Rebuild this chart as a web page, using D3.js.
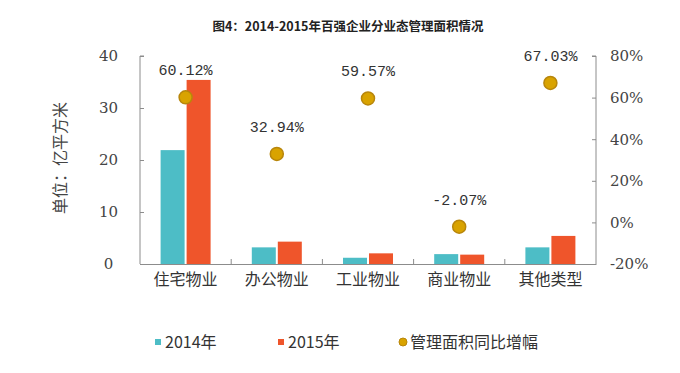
<!DOCTYPE html>
<html>
<head>
<meta charset="utf-8">
<script src="https://cdn.jsdelivr.net/npm/d3@7"></script>
<style>
  body { margin: 0; background: #fff; }
  svg { display: block; }
</style>
</head>
<body>
<div id="chart-area"></div>
<script>

var categories = ["住宅物业", "办公物业", "工业物业", "商业物业", "其他类型"];
var area2014 = [21.9, 3.2, 1.2, 1.9, 3.2];
var area2015 = [35.4, 4.3, 2.05, 1.8, 5.4];
var growth = [60.12, 32.94, 59.57, -2.07, 67.03];
var leftTicks = [0, 10, 20, 30, 40];
var rightTicks = [-20, 0, 20, 40, 60, 80];

var colors = {y2014: "#4dbdc6", y2015: "#ef552b", dot: "#d9a300", dotStroke: "#b8860b"};

var W = 680, H = 373;
var margin = {top: 56, right: 84, bottom: 109, left: 140},
    width = W - margin.left - margin.right,
    height = H - margin.top - margin.bottom;

var svg = d3.select("#chart-area")
    .append("svg")
        .attr("width", W)
        .attr("height", H);

svg.append("text")
    .attr("x", 348).attr("y", 31)
    .attr("text-anchor", "middle")
    .style("font-family", "'Noto Sans CJK SC', sans-serif")
    .style("font-weight", "bold")
    .style("font-size", "12.5px")
    .attr("fill", "#222")
    .text("图4：2014-2015年百强企业分业态管理面积情况");

var g = svg.append("g")
        .attr("transform", "translate(" + margin.left + "," + margin.top + ")");

var xScale = d3.scaleBand().domain(categories).range([0, width]);
var yScale = d3.scaleLinear().domain([0, 40]).range([height, 0]);
var y2Scale = d3.scaleLinear().domain([-20, 80]).range([height, 0]);

var barW = 24, gap = 2;

// axes
var yAxis = d3.axisLeft(yScale).tickValues(leftTicks).tickSize(-4).tickPadding(30);
var y2Axis = d3.axisRight(y2Scale).tickValues(rightTicks).tickSize(-4).tickPadding(14)
    .tickFormat(function(d){ return d + "%"; });

var yAxisEl = g.append("g").call(yAxis);
var y2AxisEl = g.append("g").attr("transform", "translate(" + width + ",0)").call(y2Axis);

[yAxisEl, y2AxisEl].forEach(function(a){
  a.attr("font-family", null);
  a.select(".domain").attr("stroke", "#8c8c8c").attr("d",
      a === yAxisEl ? "M0," + height + "V0h4" : "M0," + height + "V0h-4");
  a.selectAll(".tick line").attr("stroke", "#8c8c8c");
  a.selectAll(".tick text")
    .attr("font-family", "'DejaVu Serif', 'Liberation Serif', serif")
    .attr("font-size", "15px")
    .attr("fill", "#444");
});
yAxisEl.selectAll(".tick text").attr("text-anchor", "middle").attr("dx", "-0.1em");

// x baseline and separators
var xAxis = d3.axisBottom(xScale).tickSize(0).tickPadding(10);
var xAxisEl = g.append("g").attr("transform", "translate(0," + height + ")").call(xAxis);
xAxisEl.select(".domain").attr("stroke", "#8c8c8c");
xAxisEl.selectAll(".tick text")
    .style("font-family", "'Noto Sans CJK SC', sans-serif")
    .style("font-size", "16px")
    .attr("fill", "#333");
xAxisEl.selectAll(".sep")
    .data(categories.slice(1))
  .enter().append("line")
    .attr("class", "sep")
    .attr("x1", function(d){ return xScale(d); })
    .attr("x2", function(d){ return xScale(d); })
    .attr("y1", 0).attr("y2", -5)
    .attr("stroke", "#8c8c8c");

// bars
var cx = function(i){ return xScale(categories[i]) + xScale.bandwidth() / 2; };

g.selectAll(".b14")
    .data(area2014)
  .enter().append("rect")
    .attr("x", function(d, i){ return cx(i) - gap / 2 - barW; })
    .attr("y", function(d){ return yScale(d); })
    .attr("width", barW)
    .attr("height", function(d){ return height - yScale(d); })
    .attr("fill", colors.y2014);

g.selectAll(".b15")
    .data(area2015)
  .enter().append("rect")
    .attr("x", function(d, i){ return cx(i) + gap / 2; })
    .attr("y", function(d){ return yScale(d); })
    .attr("width", barW)
    .attr("height", function(d){ return height - yScale(d); })
    .attr("fill", colors.y2015);

// growth dots + labels
g.selectAll(".dot")
    .data(growth)
  .enter().append("circle")
    .attr("cx", function(d, i){ return cx(i); })
    .attr("cy", function(d){ return y2Scale(d); })
    .attr("r", 6.5)
    .attr("fill", colors.dot)
    .attr("stroke", colors.dotStroke)
    .attr("stroke-width", 1.5);

g.selectAll(".lbl")
    .data(growth)
  .enter().append("text")
    .attr("x", function(d, i){ return cx(i); })
    .attr("y", function(d){ return y2Scale(d) - 22; })
    .attr("text-anchor", "middle")
    .style("font-family", "'Liberation Mono', monospace")
    .style("font-size", "15px")
    .attr("fill", "#333")
    .text(function(d){ return d.toFixed(2) + "%"; });

// y label
svg.append("text")
    .attr("transform", "translate(66," + (margin.top + height / 2 - 2) + ") rotate(-90)")
    .attr("text-anchor", "middle")
    .style("font-family", "'Noto Sans CJK SC', sans-serif")
    .style("font-size", "16px")
    .attr("fill", "#444")
    .text("单位：亿平方米");

// legend
var legend = [
  {label: "2014年", color: colors.y2014, x: 155, type: "rect"},
  {label: "2015年", color: colors.y2015, x: 278, type: "rect"},
  {label: "管理面积同比增幅", color: colors.dot, x: 400, type: "dot"}
];
var lg = svg.selectAll(".lg").data(legend).enter().append("g")
    .attr("transform", function(d){ return "translate(" + d.x + ",342)"; });
lg.filter(function(d){ return d.type === "rect"; }).append("rect")
    .attr("x", 0).attr("y", -3).attr("width", 6).attr("height", 6)
    .attr("fill", function(d){ return d.color; });
lg.filter(function(d){ return d.type === "dot"; }).append("circle")
    .attr("cx", 3).attr("cy", 0).attr("r", 4)
    .attr("fill", colors.dot).attr("stroke", colors.dotStroke);
lg.append("text")
    .attr("x", 10).attr("y", 6)
    .style("font-family", "'Noto Sans CJK SC', sans-serif")
    .style("font-size", "16px")
    .attr("fill", "#333")
    .text(function(d){ return d.label; });

</script>
</body>
</html>
